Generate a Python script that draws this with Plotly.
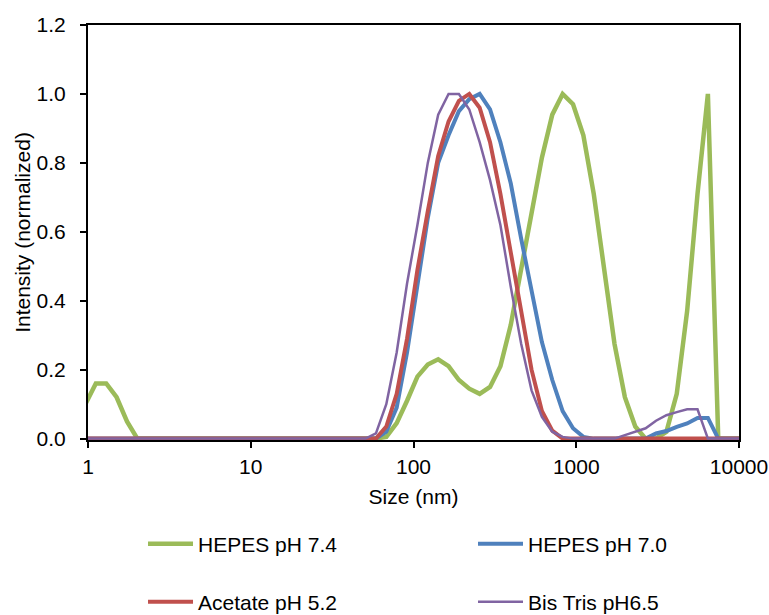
import plotly.graph_objects as go

# Size classes (nm) of the DLS intensity distribution
size_nm = [
    0.4000, 0.4632, 0.5365, 0.6213, 0.7195, 0.8332, 0.9649, 1.117, 1.294, 1.499,
    1.736, 2.010, 2.328, 2.696, 3.122, 3.615, 4.187, 4.849, 5.615, 6.503,
    7.531, 8.721, 10.10, 11.70, 13.54, 15.69, 18.17, 21.04, 24.36, 28.21,
    32.67, 37.84, 43.82, 50.75, 58.77, 68.06, 78.82, 91.28, 105.7, 122.4,
    141.8, 164.2, 190.1, 220.2, 255.0, 295.3, 342.0, 396.1, 458.7, 531.2,
    615.1, 712.4, 825.0, 955.4, 1106, 1281, 1484, 1718, 1990, 2305,
    2669, 3091, 3580, 4145, 4801, 5560, 6439, 7456, 8635, 10000,
]

# Normalized intensity per buffer
hepes_74 = [
    0, 0, 0, 0, 0, 0.03, 0.10, 0.16, 0.16, 0.12,
    0.05, 0, 0, 0, 0, 0, 0, 0, 0, 0,
    0, 0, 0, 0, 0, 0, 0, 0, 0, 0,
    0, 0, 0, 0, 0, 0.005, 0.045, 0.11, 0.18, 0.215,
    0.23, 0.21, 0.17, 0.145, 0.13, 0.15, 0.21, 0.33, 0.49, 0.64,
    0.815, 0.94, 1.0, 0.97, 0.88, 0.71, 0.485, 0.275, 0.12, 0.035,
    0, 0, 0.02, 0.13, 0.37, 0.71, 1.0, 0, 0, 0,
]
hepes_70 = [
    0, 0, 0, 0, 0, 0, 0, 0, 0, 0,
    0, 0, 0, 0, 0, 0, 0, 0, 0, 0,
    0, 0, 0, 0, 0, 0, 0, 0, 0, 0,
    0, 0, 0, 0, 0, 0.02, 0.09, 0.25, 0.45, 0.64,
    0.80, 0.88, 0.95, 0.985, 1.0, 0.955, 0.86, 0.74, 0.58, 0.43,
    0.28, 0.17, 0.08, 0.03, 0.005, 0, 0, 0, 0, 0,
    0, 0.015, 0.022, 0.034, 0.044, 0.06, 0.06, 0, 0, 0,
]
acetate_52 = [
    0, 0, 0, 0, 0, 0, 0, 0, 0, 0,
    0, 0, 0, 0, 0, 0, 0, 0, 0, 0,
    0, 0, 0, 0, 0, 0, 0, 0, 0, 0,
    0, 0, 0, 0, 0, 0.035, 0.13, 0.29, 0.49, 0.66,
    0.82, 0.92, 0.98, 1.0, 0.96, 0.86, 0.71, 0.54, 0.37, 0.20,
    0.08, 0.023, 0, 0, 0, 0, 0, 0, 0, 0,
    0, 0, 0, 0, 0, 0, 0, 0, 0, 0,
]
bistris_65 = [
    0, 0, 0, 0, 0, 0, 0, 0, 0, 0,
    0, 0, 0, 0, 0, 0, 0, 0, 0, 0,
    0, 0, 0, 0, 0, 0, 0, 0, 0, 0,
    0, 0, 0, 0, 0.015, 0.10, 0.25, 0.45, 0.62, 0.80,
    0.94, 1.0, 1.0, 0.955, 0.86, 0.75, 0.62, 0.44, 0.275, 0.14,
    0.063, 0.02, 0.005, 0, 0, 0, 0, 0, 0.01, 0.02,
    0.03, 0.052, 0.068, 0.077, 0.085, 0.085, 0, 0, 0, 0,
]

# name, values, colour, line width, legend slot
series = [
    ("HEPES pH 7.4", hepes_74, "#9BBB59", 4.5, "legend"),
    ("HEPES pH 7.0", hepes_70, "#4F81BD", 4.0, "legend2"),
    ("Acetate pH 5.2", acetate_52, "#C0504D", 4.0, "legend3"),
    ("Bis Tris pH6.5", bistris_65, "#8064A2", 2.5, "legend4"),
]

x_ticks = [1, 10, 100, 1000, 10000]
x_tick_text = ["1", "10", "100", "1000", "10000"]
y_ticks = [0.0, 0.2, 0.4, 0.6, 0.8, 1.0, 1.2]

FONT = "Liberation Sans, Arial, sans-serif"

fig = go.Figure()
for name, vals, color, width, leg in series:
    fig.add_trace(go.Scatter(
        x=size_nm, y=vals, name=name, mode="lines",
        line=dict(color=color, width=width),
        legend=leg,
    ))

axis_common = dict(
    showline=True, linecolor="black", linewidth=2, mirror=True,
    showgrid=False, zeroline=False,
    ticks="outside", tickcolor="black", tickwidth=2,
    tickfont=dict(family=FONT, size=21, color="black"),
)

fig.update_xaxes(
    type="log", range=[0, 4],
    tickvals=x_ticks, ticktext=x_tick_text, ticklen=6,
    ticklabelstandoff=1,
    title=dict(text="Size (nm)", font=dict(family=FONT, size=21, color="black"), standoff=12),
    **axis_common,
)
fig.update_yaxes(
    range=[-0.004, 1.2],
    tickvals=y_ticks, tickformat=".1f", ticklen=6,
    ticklabelstandoff=10,
    title=dict(text="Intensity (normalized)", font=dict(family=FONT, size=21, color="black"), standoff=0),
    **axis_common,
)

legend_common = dict(
    orientation="h", xanchor="left", yanchor="middle",
    font=dict(family=FONT, size=21, color="black"),
    bgcolor="rgba(0,0,0,0)", itemwidth=45,
)

# two columns x two rows under the x-axis title
col_x = [0.0845, 0.5914]
row_y = [-0.2506, -0.3904]

fig.update_layout(
    width=769, height=615,
    margin=dict(l=88, r=30, t=25, b=175, autoexpand=False),
    paper_bgcolor="white", plot_bgcolor="white",
    font=dict(family=FONT, size=21, color="black"),
    showlegend=True,
    legend=dict(x=col_x[0], y=row_y[0], **legend_common),
    legend2=dict(x=col_x[1], y=row_y[0], **legend_common),
    legend3=dict(x=col_x[0], y=row_y[1], **legend_common),
    legend4=dict(x=col_x[1], y=row_y[1], **legend_common),
)

fig.write_html("out.html")
